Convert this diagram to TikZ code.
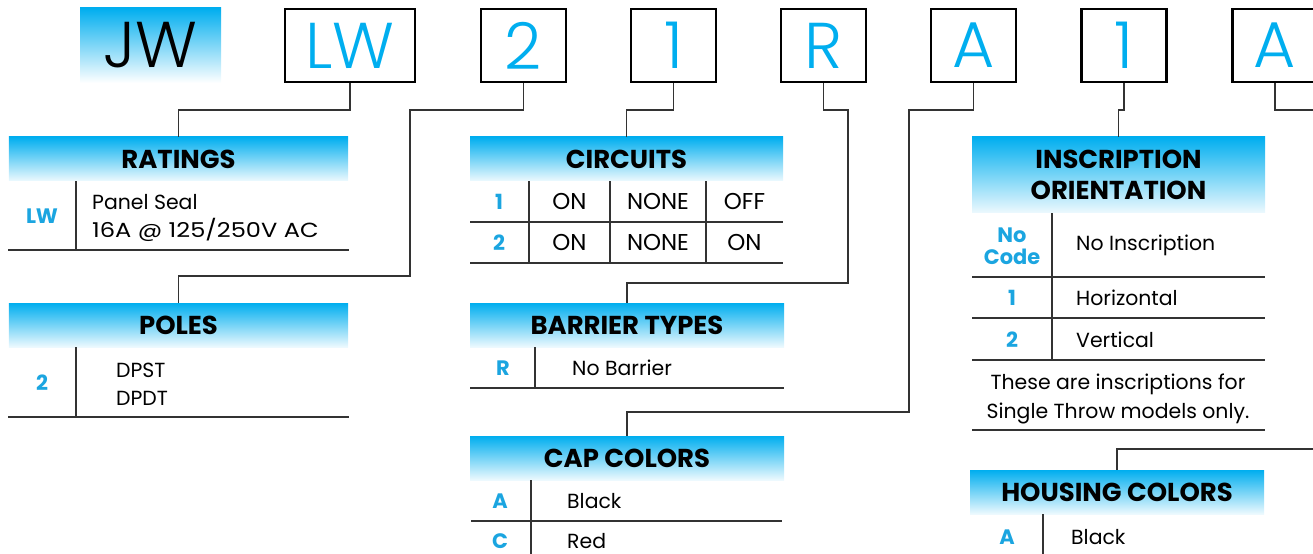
\documentclass[tikz,border=0pt]{standalone}
\usepackage{fontspec}
\setmainfont{Poppins}
\IfFontExistsTF{Poppins Light}{\newfontfamily\toplight{Poppins Light}}{\newfontfamily\toplight{Poppins}}
\definecolor{cyanc}{HTML}{00AEEF}
\definecolor{codec}{HTML}{1BA5E0}
\definecolor{linec}{HTML}{333333}
\tikzset{
  topbox/.style={draw=black, line width=2.6bp, minimum width=85bp, minimum height=73bp, inner sep=0pt, text=cyanc, font=\toplight\fontsize{65}{65}\selectfont},
  hdr/.style={top color=cyanc, bottom color=cyanc!7, inner sep=0pt, font=\bfseries\fontsize{26}{31}\selectfont, align=center},
  conn/.style={draw=linec, line width=1.5bp},
  tline/.style={draw=linec, line width=1.5bp},
  code/.style={text=codec, font=\bfseries\fontsize{21}{21}\selectfont, inner sep=0pt, align=center},
  body/.style={font=\fontsize{20.5}{28.5}\selectfont, inner sep=0pt, align=left},
  bodyc/.style={font=\fontsize{20.5}{29}\selectfont, inner sep=0pt, align=center},
  cell/.style={font=\fontsize{23}{23}\selectfont, inner sep=0pt, align=center},
}
\begin{document}
\begin{tikzpicture}[x=1bp, y=-1bp]
\useasboundingbox (0,0) rectangle (1313,554);
% top code boxes
\node[top color=cyanc, bottom color=white, minimum width=141bp, minimum height=75bp, inner sep=0pt, font=\toplight\fontsize{65}{65}\selectfont] (jw) at (150.5,45.5) {JW};
\node[topbox, minimum width=130bp] (bLW) at (350,45.5) {LW};
\node[topbox] (bP) at (523.5,45.5) {2};
\node[topbox] (bC) at (673.5,45.5) {1};
\node[topbox] (bR) at (823.5,45.5) {R};
\node[topbox] (bA) at (973.5,45.5) {A};
\node[topbox] (bI) at (1124,45.5) {1};
\node[topbox] (bH) at (1275,45.5) {A};

% headers
\node[hdr, minimum width=339bp, minimum height=44bp] (ratH) at (178.5,159) {RATINGS};
\node[hdr, minimum width=339bp, minimum height=44bp] (polH) at (178.5,325) {POLES};
\node[hdr, minimum width=313bp, minimum height=44bp] (cirH) at (626.5,159) {CIRCUITS};
\node[hdr, minimum width=314bp, minimum height=44bp] (barH) at (627,325) {BARRIER TYPES};
\node[hdr, minimum width=314bp, minimum height=44bp] (capH) at (627,458) {CAP COLORS};
\node[hdr, minimum width=293bp, minimum height=76bp] (insH) at (1118.5,175) {INSCRIPTION\\ORIENTATION};
\node[hdr, minimum width=294bp, minimum height=44bp] (houH) at (1117,492) {HOUSING COLORS};

% connectors
\coordinate (kLW) at (bLW.south |- 0,110);
\draw[conn] (bLW.south) -- (kLW) -| (ratH.north);
\coordinate (kP1) at (bP.south |- 0,110);
\coordinate (kP2) at (410,110);
\coordinate (kP3) at (410,276);
\draw[conn] (bP.south) -- (kP1) -- (kP2) -- (kP3) -| (polH.north);
\coordinate (kC) at (bC.south |- 0,110);
\draw[conn] (bC.south) -- (kC) -| (cirH.north);
\coordinate (kR1) at (bR.south |- 0,110);
\coordinate (kR2) at (848,110);
\coordinate (kR3) at (848,283);
\draw[conn] (bR.south) -- (kR1) -- (kR2) -- (kR3) -| (barH.north);
\coordinate (kA1) at (bA.south |- 0,110);
\coordinate (kA2) at (909,110);
\coordinate (kA3) at (909,412);
\draw[conn] (bA.south) -- (kA1) -- (kA2) -- (kA3) -| (capH.north);
\coordinate (kI) at (bI.south |- 0,110);
\draw[conn] (bI.south) -- (kI) -| (insH.north);
\coordinate (kH) at (bH.south |- 0,110);
\coordinate (edgeA) at (1313,110);
\draw[conn] (bH.south) -- (kH) -- (edgeA);
\coordinate (edgeH) at (1313,449);
\draw[conn] (edgeH) -| (houH.north);

% RATINGS table
\draw[tline] (ratH.south west -| 76,0) -- (76,250);
\draw[tline] (8,250) -- (349,250);
\node[code] (ratc) at (42,216) {LW};
\node[body, anchor=west] (ratt) at (92,218) {Panel Seal\\\scalebox{1.18}[1]{16A @ 125/250V AC}};

% POLES table
\draw[tline] (polH.south west -| 76,0) -- (76,417);
\draw[tline] (8,417) -- (349,417);
\node[code] (polc) at (42,383) {2};
\node[body, anchor=west] (polt) at (116,384) {DPST\\DPDT};

% CIRCUITS table
\draw[tline] (cirH.south west -| 529,0) -- (529,263);
\draw[tline] (cirH.south west -| 610,0) -- (610,263);
\draw[tline] (cirH.south west -| 706,0) -- (706,263);
\draw[tline] (470,222) -- (783,222);
\draw[tline] (470,263) -- (783,263);
\node[code] (c1) at (499,202) {1};
\node[cell] (c1a) at (569.5,202) {ON};
\node[cell] (c1b) at (658,202) {NONE};
\node[cell] (c1c) at (744.5,202) {OFF};
\node[code] (c2) at (499,243) {2};
\node[cell] (c2a) at (569.5,243) {ON};
\node[cell] (c2b) at (658,243) {NONE};
\node[cell] (c2c) at (744.5,243) {ON};

% BARRIER table
\draw[tline] (barH.south west -| 535,0) -- (535,388);
\draw[tline] (470,388) -- (784,388);
\node[code] (brc) at (503,368) {R};
\node[body, anchor=west] (brt) at (572,368) {No Barrier};

% CAP COLORS table
\draw[tline] (capH.south west -| 531,0) -- (531,554);
\draw[tline] (471,521) -- (782,521);
\node[code] (cpa) at (500,501) {A};
\node[body, anchor=west] (cpat) at (567,501) {Black};
\node[code] (cpc) at (500,541) {C};
\node[body, anchor=west] (cpct) at (567,541) {Red};

% INSCRIPTION table
\draw[tline] (insH.south west -| 1052,0) -- (1052,360);
\draw[tline] (972,277) -- (1265,277);
\draw[tline] (972,318) -- (1265,318);
\draw[tline] (972,360) -- (1265,360);
\draw[tline] (972,430) -- (1265,430);
\node[code, font=\bfseries\fontsize{21}{22}\selectfont] (inc0) at (1012,246) {No\\Code};
\node[body, anchor=west] (int0) at (1076,245) {No Inscription};
\node[code] (inc1) at (1012,298) {1};
\node[body, anchor=west] (int1) at (1076,298) {Horizontal};
\node[code] (inc2) at (1012,340) {2};
\node[body, anchor=west] (int2) at (1076,340) {Vertical};
\node[bodyc] (innote) at (1118,399) {These are inscriptions for\\Single Throw models only.};

% HOUSING table
\draw[tline] (houH.south west -| 1043,0) -- (1043,554);
\node[code] (hoa) at (1007,537) {A};
\node[body, anchor=west] (hoat) at (1071,537) {Black};
\end{tikzpicture}
\end{document}
